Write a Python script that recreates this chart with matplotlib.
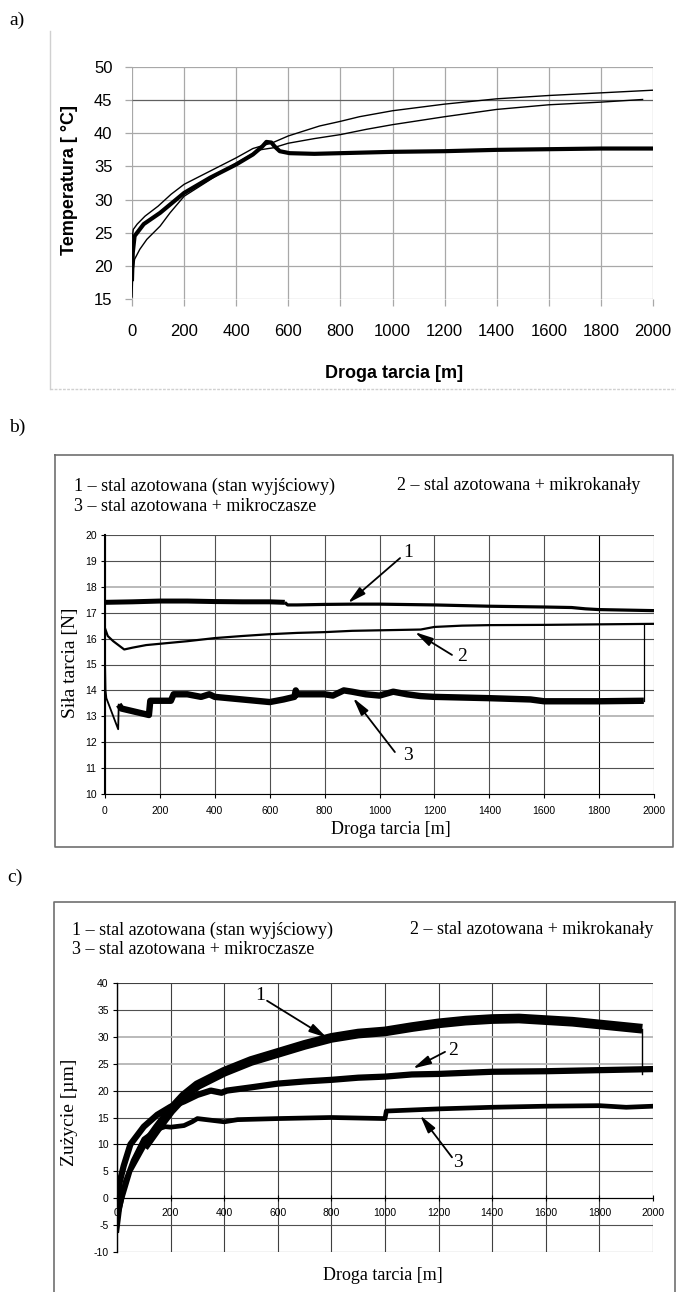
import numpy as np
import matplotlib
matplotlib.use("Agg")
import matplotlib.pyplot as plt
from matplotlib.lines import Line2D

plt.rcParams['font.family'] = ['Liberation Sans', 'DejaVu Sans']
plt.rcParams['axes.unicode_minus'] = False

SANS = ['Liberation Sans', 'DejaVu Sans']
SERIF = ['Liberation Serif', 'DejaVu Serif']

# ---------------- data: a) temperature ----------------
a_x1 = [0, 5, 20, 50, 100, 150, 200, 300, 400, 464, 541, 600, 720, 800, 873, 1000, 1200, 1400, 1600, 1800, 2000]
a_y1 = [24.0, 25.5, 26.3, 27.5, 29.0, 30.8, 32.3, 34.3, 36.3, 37.7, 38.6, 39.6, 41.1, 41.8, 42.5, 43.4, 44.4, 45.2, 45.7, 46.1, 46.5]
a_x2 = [0, 3, 10, 30, 57, 108, 146, 200, 300, 400, 490, 541, 600, 700, 800, 900, 1000, 1200, 1400, 1600, 1800, 1960]
a_y2 = [15.3, 19.0, 21.0, 22.5, 24.0, 26.0, 28.0, 30.5, 33.0, 35.5, 37.5, 37.8, 38.5, 39.2, 39.8, 40.6, 41.3, 42.5, 43.6, 44.3, 44.7, 45.1]
a_x3 = [0, 3, 10, 45, 108, 200, 300, 400, 464, 500, 516, 535, 548, 567, 605, 700, 800, 1000, 1200, 1400, 1600, 1800, 2000]
a_y3 = [18.0, 22.0, 24.5, 26.3, 28.0, 31.0, 33.3, 35.3, 36.8, 38.0, 38.7, 38.6, 38.0, 37.3, 37.0, 36.9, 37.0, 37.2, 37.3, 37.5, 37.6, 37.7, 37.7]

# ---------------- data: b) friction force ----------------
b_x1 = [0, 100, 200, 300, 400, 500, 600, 655, 665, 700, 800, 900, 1000, 1200, 1400, 1600, 1700, 1750, 1800, 1900, 2000]
b_y1 = [17.4, 17.42, 17.45, 17.45, 17.43, 17.42, 17.42, 17.4, 17.3, 17.3, 17.32, 17.33, 17.33, 17.3, 17.25, 17.22, 17.2, 17.15, 17.12, 17.1, 17.08]
b_x2 = [0, 10, 30, 70, 100, 150, 200, 300, 400, 500, 600, 700, 800, 900, 1000, 1150, 1200, 1300, 1400, 1600, 1800, 2000]
b_y2 = [16.4, 16.1, 15.9, 15.58, 15.65, 15.75, 15.8, 15.9, 16.02, 16.1, 16.17, 16.22, 16.25, 16.3, 16.32, 16.35, 16.45, 16.5, 16.52, 16.53, 16.55, 16.57]
b_x3 = [0, 0, 2, 5, 48, 50, 60, 100, 140, 160, 165, 200, 240, 250, 300, 350, 380, 400, 450, 500, 550, 600, 650, 690, 695,
        700, 800, 830, 870, 900, 950, 1000, 1050, 1100, 1150, 1200, 1400, 1550, 1600, 1800, 1963, 1963]
b_y3 = [10.0, 15.2, 14.0, 13.7, 12.5, 13.45, 13.3, 13.2, 13.1, 13.05, 13.6, 13.6, 13.6, 13.85, 13.85, 13.75, 13.85, 13.75, 13.7, 13.65, 13.6, 13.55, 13.65, 13.75, 14.0,
        13.85, 13.85, 13.8, 14.0, 13.95, 13.85, 13.8, 13.95, 13.85, 13.78, 13.75, 13.7, 13.65, 13.58, 13.58, 13.6, 16.55]

# ---------------- data: c) wear ----------------
c_x1 = [0, 5, 20, 50, 100, 150, 200, 250, 300, 400, 500, 600, 700, 800, 900, 1000, 1100, 1200, 1300, 1400, 1500, 1600, 1700, 1800, 1900, 1960, 1960]
c_y1 = [-5.0, -3.0, 0.0, 5.0, 9.5, 13.0, 16.3, 19.0, 21.0, 23.5, 25.5, 27.0, 28.5, 29.8, 30.6, 31.0, 31.8, 32.5, 33.0, 33.3, 33.4, 33.1, 32.8, 32.3, 31.8, 31.5, 23.0]
c_x2 = [0, 10, 25, 50, 100, 150, 200, 250, 300, 350, 390, 410, 500, 600, 700, 800, 900, 1000, 1100, 1200, 1400, 1600, 1800, 2000]
c_y2 = [-3.0, 3.0, 6.0, 10.0, 13.3, 15.5, 17.0, 18.0, 19.2, 20.0, 19.6, 20.0, 20.6, 21.3, 21.7, 22.0, 22.4, 22.6, 23.0, 23.1, 23.5, 23.6, 23.8, 24.0]
c_x3 = [0, 10, 30, 60, 100, 150, 180, 200, 250, 280, 300, 350, 400, 450, 600, 800, 1000, 1005, 1200, 1400, 1600, 1800, 1900, 2000]
c_y3 = [-6.0, -2.0, 3.0, 7.0, 11.0, 12.8, 13.3, 13.2, 13.5, 14.2, 14.8, 14.5, 14.2, 14.6, 14.8, 15.0, 14.8, 16.2, 16.6, 16.9, 17.1, 17.2, 16.9, 17.1]

legend_1 = "1 – stal azotowana (stan wyjściowy)"
legend_2 = "2 – stal azotowana + mikrokanały"
legend_3 = "3 – stal azotowana + mikroczasze"

W, H = 676, 1292
fig = plt.figure(figsize=(W / 100, H / 100), dpi=100)


def fx(px):
    return px / W


def fy(py):
    return 1 - py / H


def axes_px(left, top, right, bottom):
    return fig.add_axes([fx(left), fy(bottom), (right - left) / W, (bottom - top) / H])


def fig_line(xs, ys, **kw):
    fig.add_artist(Line2D([fx(x) for x in xs], [fy(y) for y in ys], transform=fig.transFigure, **kw))


def fig_text(x, y, s, **kw):
    fig.text(fx(x), fy(y), s, **kw)


def arrow(ax, tail, tip):
    ax.annotate("", xy=tip, xytext=tail,
                arrowprops=dict(arrowstyle="-|>,head_width=0.22,head_length=0.9", color="k", lw=1.3,
                                shrinkA=0, shrinkB=0, mutation_scale=12))


# ======================= a) =======================
fig_text(9, 20, "a)", family=SERIF, fontsize=14, va="center", ha="left")
fig_line([50, 50], [31, 389], color="#d0d0d0", lw=1)
fig_line([50, 676], [389, 389], color="#d0d0d0", lw=1, ls=(0, (2, 1)))

ax = axes_px(132, 67, 653, 299)
ax.set_xlim(0, 2000)
ax.set_ylim(15, 50)
for v in range(0, 2001, 200):
    ax.axvline(v, color="#a8a8a8", lw=0.9, zorder=0)
for v in range(15, 51, 5):
    ax.axhline(v, color="#606060" if v == 45 else "#a8a8a8", lw=0.9, zorder=0)
for s in ax.spines.values():
    s.set_visible(False)
ax.set_xticks(range(0, 2001, 200))
ax.set_yticks(range(15, 51, 5))
ax.tick_params(length=5, width=0.9, color="#a8a8a8", labelsize=12, pad=9)
ax.tick_params(axis="x", pad=13)
ax.plot(a_x1, a_y1, color="k", lw=1.0)
ax.plot(a_x2, a_y2, color="k", lw=1.0)
ax.plot(a_x3, a_y3, color="k", lw=3.0)
fig_text(394, 373, "Droga tarcia [m]", fontsize=13, fontweight="bold", ha="center", va="center")
fig_text(69, 180, "Temperatura [ °C]", fontsize=13, fontweight="bold", ha="center", va="center", rotation=90)

# ======================= b) =======================
fig_text(9, 427, "b)", family=SERIF, fontsize=14, va="center", ha="left")
fig_line([55, 673, 673, 55, 55], [455, 455, 847, 847, 455], color="#707070", lw=1.2)
fig_text(74, 486, legend_1, family=SERIF, fontsize=13, va="center", ha="left")
fig_text(397, 486, legend_2, family=SERIF, fontsize=13, va="center", ha="left")
fig_text(74, 506, legend_3, family=SERIF, fontsize=13, va="center", ha="left")

ax = axes_px(105, 535, 654, 794)
ax.set_xlim(0, 2000)
ax.set_ylim(10, 20)
for v in range(0, 2001, 200):
    ax.axvline(v, color="k" if v == 1800 else "#505050", lw=0.8, zorder=0)
for v in range(10, 21):
    ax.axhline(v, color="#b4b4b4" if v in (13, 18) else "#505050", lw=0.8 if v not in (13, 18) else 1.3, zorder=0)
for s in ["top", "right"]:
    ax.spines[s].set_visible(False)
ax.spines["left"].set_linewidth(1.5)
ax.spines["bottom"].set_linewidth(0.8)
ax.set_xticks(range(0, 2001, 200))
ax.set_yticks(range(10, 21))
ax.tick_params(length=3, width=0.8, labelsize=7.5, pad=3)
ax.tick_params(axis="x", pad=6)

ax.plot(b_x1[:8], b_y1[:8], color="k", lw=3.6, solid_capstyle="butt")
ax.plot(b_x1[7:], b_y1[7:], color="k", lw=2.3, solid_capstyle="butt")
ax.plot(b_x2, b_y2, color="k", lw=1.6)
ax.plot(b_x3[:6], b_y3[:6], color="k", lw=1.3)
ax.plot(b_x3[5:-1], b_y3[5:-1], color="k", lw=4.6, solid_capstyle="butt")
ax.plot(b_x3[-2:], b_y3[-2:], color="k", lw=0.9)

ax.text(1104, 19.34, "1", family=SERIF, fontsize=14, ha="center", va="center")
arrow(ax, (1075, 19.11), (885, 17.37))
ax.text(1300, 15.29, "2", family=SERIF, fontsize=14, ha="center", va="center")
arrow(ax, (1264, 15.37), (1129, 16.25))
ax.text(1104, 11.5, "3", family=SERIF, fontsize=14, ha="center", va="center")
arrow(ax, (1056, 11.62), (904, 13.71))

fig_text(391, 830, "Droga tarcia [m]", family=SERIF, fontsize=13, ha="center", va="center")
fig_text(70, 663, "Siła tarcia [N]", family=SERIF, fontsize=14, ha="center", va="center", rotation=90)

# ======================= c) =======================
fig_text(7, 877, "c)", family=SERIF, fontsize=14, va="center", ha="left")
fig_line([54, 675, 675], [1300, 1300, 902], color="#707070", lw=1.2)
fig_line([54, 54, 675], [1300, 902, 902], color="#707070", lw=1.2)
fig_text(72, 930, legend_1, family=SERIF, fontsize=13, va="center", ha="left")
fig_text(410, 930, legend_2, family=SERIF, fontsize=13, va="center", ha="left")
fig_text(72, 949, legend_3, family=SERIF, fontsize=13, va="center", ha="left")

ax = axes_px(117, 983, 653, 1252)
ax.set_xlim(0, 2000)
ax.set_ylim(-10, 40)
for v in range(0, 2001, 200):
    ax.axvline(v, color="#404040", lw=0.8, zorder=0)
grid_c = {40: "#404040", 35: "#505050", 30: "#b4b4b4", 25: "#b4b4b4", 20: "#303030", 15: "#505050",
          10: "k", 5: "#505050", 0: "k", -5: "#505050", -10: "#303030"}
for v, col in grid_c.items():
    ax.axhline(v, color=col, lw=0.8 if col not in ("#b4b4b4",) else 1.3, zorder=0)
for s in ["top", "right"]:
    ax.spines[s].set_visible(False)
ax.spines["bottom"].set_position(("data", 0))
ax.spines["left"].set_linewidth(1.0)
ax.set_xticks(range(0, 2001, 200))
ax.set_yticks(range(-10, 41, 5))
ax.tick_params(length=3, width=0.8, labelsize=7.5, pad=3)
ax.tick_params(axis="x", direction="inout", length=4, pad=5)

ax.plot(c_x1[:5], c_y1[:5], color="k", lw=3.0)
ax.plot(c_x1[4:-1], c_y1[4:-1], color="k", lw=7.0, solid_capstyle="butt")
ax.plot(c_x1[-2:], c_y1[-2:], color="k", lw=1.0)
ax.plot(c_x2, c_y2, color="k", lw=4.5)
ax.plot(c_x3, c_y3, color="k", lw=3.4)

ax.text(534, 37.6, "1", family=SERIF, fontsize=14, ha="center", va="center")
arrow(ax, (560, 36.7), (784, 29.8))
ax.text(1254, 27.4, "2", family=SERIF, fontsize=14, ha="center", va="center")
arrow(ax, (1224, 27.2), (1104, 24.1))
ax.text(1272, 6.7, "3", family=SERIF, fontsize=14, ha="center", va="center")
arrow(ax, (1250, 7.6), (1131, 15.4))

fig_text(383, 1275, "Droga tarcia [m]", family=SERIF, fontsize=13, ha="center", va="center")
fig_text(69, 1112, "Zużycie [µm]", family=SERIF, fontsize=14, ha="center", va="center", rotation=90)

fig.savefig("out.png", dpi=100)
